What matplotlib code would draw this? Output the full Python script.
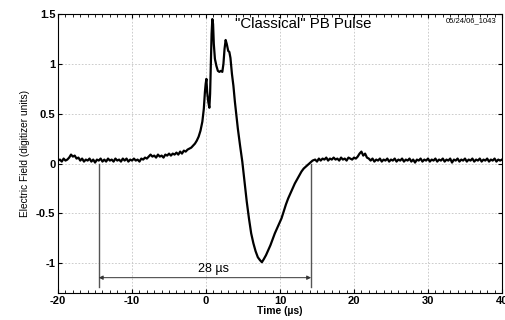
import numpy as np
import matplotlib
matplotlib.use('Agg')
import matplotlib.pyplot as plt

plt.rcParams['font.family'] = ['Liberation Sans', 'DejaVu Sans']
plt.rcParams['axes.unicode_minus'] = False

# Baseline before the pulse, -20 .. -5 us, 0.25 us step
pre_t = np.linspace(-20, -5, 61)
pre_v = [0.03, 0.04, 0.02, 0.05, 0.03, 0.04, 0.06, 0.09, 0.07, 0.08,
         0.05, 0.06, 0.03, 0.05, 0.02, 0.04, 0.03, 0.05, 0.02, 0.04,
         0.01, 0.04, 0.03, 0.05, 0.02, 0.04, 0.02, 0.05, 0.03, 0.04,
         0.02, 0.05, 0.03, 0.04, 0.02, 0.05, 0.03, 0.05, 0.02, 0.04,
         0.03, 0.05, 0.03, 0.04, 0.02, 0.05, 0.04, 0.06, 0.05, 0.07,
         0.09, 0.07, 0.08, 0.06, 0.09, 0.07, 0.08, 0.06, 0.09, 0.08,
         0.10]

# Pulse itself
pulse_t = [-4.75, -4.5, -4.25, -4.0, -3.75, -3.5, -3.25, -3.0, -2.75, -2.5,
           -2.25, -2.0, -1.75, -1.5, -1.25, -1.0, -0.75, -0.5, -0.3, -0.15,
           -0.05, 0.05, 0.15, 0.3, 0.45, 0.55, 0.65, 0.75, 0.85, 0.95,
           1.05, 1.2, 1.4, 1.6, 1.8, 2.0, 2.2, 2.35, 2.5, 2.65,
           2.8, 3.0, 3.15, 3.3, 3.5, 3.7, 3.9, 4.1, 4.3, 4.6,
           4.9, 5.2, 5.5, 5.8, 6.1, 6.4, 6.7, 7.0, 7.3, 7.55,
           7.8, 8.1, 8.4, 8.7, 9.0, 9.3, 9.6, 9.9, 10.2, 10.5,
           10.8, 11.1, 11.4, 11.7, 12.0, 12.3, 12.6, 12.9, 13.2, 13.5,
           13.8, 14.1, 14.4]
pulse_v = [0.08, 0.10, 0.09, 0.11, 0.09, 0.12, 0.10, 0.13, 0.12, 0.14,
           0.15, 0.16, 0.18, 0.20, 0.23, 0.27, 0.33, 0.42, 0.55, 0.72,
           0.80, 0.85, 0.72, 0.62, 0.56, 0.70, 1.00, 1.30, 1.45, 1.40,
           1.20, 1.05, 0.98, 0.93, 0.92, 0.93, 0.92, 1.00, 1.15, 1.24,
           1.20, 1.13, 1.12, 1.06, 0.90, 0.78, 0.62, 0.48, 0.35, 0.18,
           0.02, -0.18, -0.38, -0.55, -0.70, -0.80, -0.88, -0.94, -0.97, -0.99,
           -0.96, -0.92, -0.87, -0.82, -0.76, -0.70, -0.65, -0.60, -0.55, -0.48,
           -0.41, -0.35, -0.30, -0.25, -0.20, -0.16, -0.12, -0.08, -0.05, -0.03,
           -0.01, 0.01, 0.03]

# Baseline after the pulse, 14.75 .. 40 us
post_t = np.linspace(14.75, 40, 102)
post_v = [0.04, 0.02, 0.05, 0.03, 0.05, 0.04, 0.06, 0.03, 0.05, 0.04,
          0.06, 0.04, 0.05, 0.03, 0.06, 0.04, 0.05, 0.03, 0.06, 0.05,
          0.04, 0.06, 0.05, 0.07, 0.10, 0.12, 0.08, 0.10, 0.06, 0.05,
          0.03, 0.05, 0.02, 0.04, 0.03, 0.05, 0.02, 0.04, 0.03, 0.05,
          0.02, 0.04, 0.03, 0.05, 0.02, 0.04, 0.03, 0.05, 0.02, 0.04,
          0.03, 0.05, 0.02, 0.04, 0.01, 0.04, 0.03, 0.05, 0.02, 0.04,
          0.03, 0.05, 0.02, 0.04, 0.03, 0.05, 0.02, 0.04, 0.03, 0.05,
          0.02, 0.04, 0.03, 0.05, 0.01, 0.04, 0.03, 0.05, 0.02, 0.04,
          0.03, 0.05, 0.02, 0.04, 0.03, 0.05, 0.02, 0.04, 0.03, 0.05,
          0.02, 0.04, 0.03, 0.05, 0.02, 0.04, 0.03, 0.05, 0.02, 0.04,
          0.03, 0.04]

t = np.concatenate([pre_t, pulse_t, post_t])
v = np.concatenate([pre_v, pulse_v, post_v])

# 28 us duration markers
mark_start, mark_end = -14.5, 14.2
mark_bottom, arrow_y = -1.24, -1.145

fig = plt.figure(figsize=(5.05, 3.2), dpi=100)
ax = fig.add_axes([0.115, 0.084, 0.879, 0.872])

ax.plot(t, v, color='black', linewidth=1.6)

ax.plot([mark_start, mark_start], [0, mark_bottom], color='#555555', linewidth=1.0)
ax.plot([mark_end, mark_end], [0, mark_bottom], color='#555555', linewidth=1.0)
ax.annotate('', xy=(mark_start, arrow_y), xytext=(mark_end, arrow_y),
            arrowprops=dict(arrowstyle='<|-|>', color='#333333', lw=0.7,
                            mutation_scale=6, shrinkA=0, shrinkB=0))
ax.text(1.0, -1.06, '28 \u00b5s', ha='center', va='center', fontsize=9)

ax.text(0.399, 0.99, '"Classical" PB Pulse', transform=ax.transAxes,
        ha='left', va='top', fontsize=10.8)
ax.text(0.988, 0.99, '05/24/06_1043', transform=ax.transAxes,
        ha='right', va='top', fontsize=5.5)

ax.set_xlim(-20, 40)
ax.set_ylim(-1.3, 1.5)
ax.set_xticks([-20, -10, 0, 10, 20, 30, 40])
ax.set_yticks([-1, -0.5, 0, 0.5, 1, 1.5])
ax.set_yticklabels(['-1', '-0.5', '0', '0.5', '1', '1.5'])
ax.set_xticks(np.arange(-20, 41, 1), minor=True)
ax.tick_params(which='both', direction='in', top=True, right=True,
               labelsize=8, pad=2)
ax.tick_params(which='major', length=3)
ax.tick_params(which='minor', length=2)
for lab in ax.get_xticklabels() + ax.get_yticklabels():
    lab.set_fontweight('bold')

ax.grid(True, which='major', linestyle=(0, (2, 2)), color='#c4c4c4', linewidth=0.6)
ax.set_xlabel('Time (\u00b5s)', fontsize=7.5, fontweight='bold', labelpad=0)
ax.set_ylabel('Electric Field (digitizer units)', fontsize=7.3, labelpad=4)

fig.savefig('out.png', dpi=100)
